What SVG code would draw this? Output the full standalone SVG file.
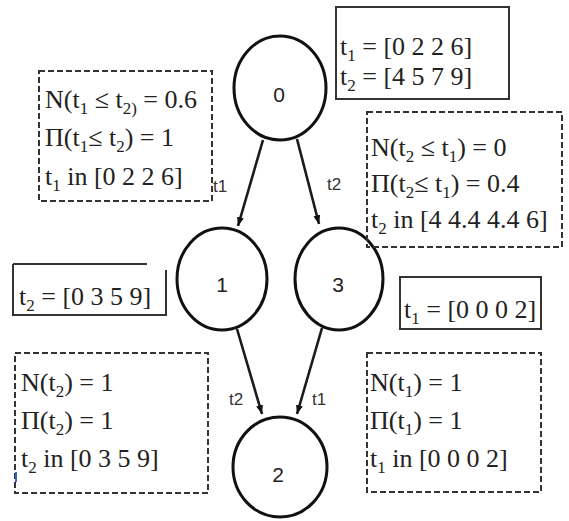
<svg xmlns="http://www.w3.org/2000/svg" width="569" height="521" viewBox="0 0 569 521">
<style>
.node{fill:#fff;stroke:#111;stroke-width:3}
.nl{font-family:"Liberation Sans",Arial,sans-serif;font-size:21px;fill:#222;text-anchor:middle}
.el{font-family:"Liberation Sans",Arial,sans-serif;font-size:17px;fill:#333}
.edge{stroke:#1a1a1a;stroke-width:2.6;fill:none;marker-end:url(#ah)}
.dbox{fill:none;stroke:#333;stroke-width:2;stroke-dasharray:6 3}
.sbox{fill:none;stroke:#333;stroke-width:2}
.tx{font-family:"Liberation Serif","Times New Roman",serif;font-size:26px;fill:#222}
.sb{font-size:17px}
</style>
<defs>
<marker id="ah" viewBox="0 0 10 8" refX="10" refY="4" markerWidth="9" markerHeight="7" markerUnits="userSpaceOnUse" orient="auto">
<path d="M0,0 L10,4 L0,8 z" fill="#111"/>
</marker>
</defs>

<g id="connectors">
<line class="edge" x1="263" y1="140" x2="238" y2="226"/>
<line class="edge" x1="297" y1="139" x2="319" y2="224"/>
<line class="edge" x1="237" y1="329" x2="262" y2="414"/>
<line class="edge" x1="322" y1="328" x2="297" y2="414"/>
<text class="el" x="213" y="192">t1</text>
<text class="el" x="327" y="190">t2</text>
<text class="el" x="229" y="405">t2</text>
<text class="el" x="312" y="405">t1</text>
</g>

<g id="node0">
<ellipse class="node" cx="280" cy="88" rx="46" ry="52"/>
<text class="nl" x="279" y="102">0</text>
</g>
<g id="node1">
<ellipse class="node" cx="222" cy="279" rx="45" ry="51"/>
<text class="nl" x="222" y="292">1</text>
</g>
<g id="node3">
<ellipse class="node" cx="339" cy="279" rx="44" ry="51"/>
<text class="nl" x="338" y="292">3</text>
</g>
<g id="node2">
<ellipse class="node" cx="280" cy="467" rx="47" ry="50"/>
<text class="nl" x="278" y="482">2</text>
</g>

<g id="boxA">
<rect class="dbox" x="39" y="71" width="173" height="130"/>
<text class="tx" x="45" y="108">N(t<tspan class="sb" dy="6">1</tspan><tspan dy="-6"> ≤ t</tspan><tspan class="sb" dy="6">2)</tspan><tspan dy="-6"> = 0.6</tspan></text>
<text class="tx" x="45" y="146">Π(t<tspan class="sb" dy="6">1</tspan><tspan dy="-6">≤ t</tspan><tspan class="sb" dy="6">2</tspan><tspan dy="-6">) = 1</tspan></text>
<text class="tx" x="45" y="185">t<tspan class="sb" dy="6">1</tspan><tspan dy="-6"> in [0 2 2 6]</tspan></text>
</g>

<g id="boxB">
<rect class="sbox" x="336" y="7" width="173" height="92"/>
<text class="tx" x="340" y="55">t<tspan class="sb" dy="6">1</tspan><tspan dy="-6"> = [0 2 2 6]</tspan></text>
<text class="tx" x="340" y="85">t<tspan class="sb" dy="6">2</tspan><tspan dy="-6"> = [4 5 7 9]</tspan></text>
</g>

<g id="boxC">
<rect class="dbox" x="367" y="112" width="195" height="135"/>
<text class="tx" x="371" y="156">N(t<tspan class="sb" dy="6">2</tspan><tspan dy="-6"> ≤ t</tspan><tspan class="sb" dy="6">1</tspan><tspan dy="-6">) = 0</tspan></text>
<text class="tx" x="371" y="192">Π(t<tspan class="sb" dy="6">2</tspan><tspan dy="-6">≤ t</tspan><tspan class="sb" dy="6">1</tspan><tspan dy="-6">) = 0.4</tspan></text>
<text class="tx" x="371" y="228">t<tspan class="sb" dy="6">2</tspan><tspan dy="-6"> in [4 4.4 4.4 6]</tspan></text>
</g>

<g id="boxD">
<path class="sbox" d="M13,264 H147 M13,264 V315 H166 V270"/>
<text class="tx" x="19" y="305">t<tspan class="sb" dy="6">2</tspan><tspan dy="-6"> = [0 3 5 9]</tspan></text>
</g>

<g id="boxE">
<rect class="dbox" x="15" y="353" width="193" height="140"/>
<text class="tx" x="21" y="391">N(t<tspan class="sb" dy="6">2</tspan><tspan dy="-6">) = 1</tspan></text>
<text class="tx" x="21" y="429">Π(t<tspan class="sb" dy="6">2</tspan><tspan dy="-6">) = 1</tspan></text>
<text class="tx" x="21" y="467">t<tspan class="sb" dy="6">2</tspan><tspan dy="-6"> in [0 3 5 9]</tspan></text>
<rect x="15" y="472" width="2" height="10" fill="#3366cc"/>
</g>

<g id="boxF">
<rect class="sbox" x="400" y="277" width="141" height="52"/>
<text class="tx" x="404" y="318">t<tspan class="sb" dy="6">1</tspan><tspan dy="-6"> = [0 0 0 2]</tspan></text>
</g>

<g id="boxG">
<rect class="dbox" x="367" y="353" width="174" height="139"/>
<text class="tx" x="370" y="391">N(t<tspan class="sb" dy="6">1</tspan><tspan dy="-6">) = 1</tspan></text>
<text class="tx" x="370" y="429">Π(t<tspan class="sb" dy="6">1</tspan><tspan dy="-6">) = 1</tspan></text>
<text class="tx" x="370" y="467">t<tspan class="sb" dy="6">1</tspan><tspan dy="-6"> in [0 0 0 2]</tspan></text>
</g>
</svg>
